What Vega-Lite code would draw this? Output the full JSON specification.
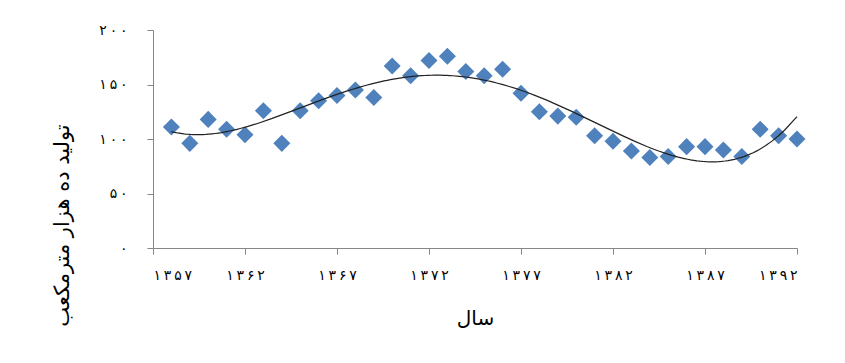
{
  "$schema": "https://vega.github.io/schema/vega-lite/v6.json",
  "autosize": "none",
  "width": 644,
  "height": 218,
  "padding": {"left": 153, "top": 30, "right": 48, "bottom": 115},
  "background": "white",
  "config": {
    "view": {"stroke": null},
    "axis": {
      "grid": false,
      "domainColor": "#868686",
      "tickColor": "#868686",
      "tickSize": 6,
      "labelFont": "DejaVu Sans",
      "labelFontSize": 14,
      "labelColor": "#000000",
      "titleFont": "DejaVu Sans",
      "titleFontWeight": "normal",
      "titleColor": "#000000"
    }
  },
  "data": {
    "values": [
      {"year": 1358, "value": 111},
      {"year": 1359, "value": 96},
      {"year": 1360, "value": 118},
      {"year": 1361, "value": 109},
      {"year": 1362, "value": 104},
      {"year": 1363, "value": 126},
      {"year": 1364, "value": 96},
      {"year": 1365, "value": 126},
      {"year": 1366, "value": 135},
      {"year": 1367, "value": 140},
      {"year": 1368, "value": 145},
      {"year": 1369, "value": 138},
      {"year": 1370, "value": 167},
      {"year": 1371, "value": 158},
      {"year": 1372, "value": 172},
      {"year": 1373, "value": 176},
      {"year": 1374, "value": 162},
      {"year": 1375, "value": 158},
      {"year": 1376, "value": 164},
      {"year": 1377, "value": 142},
      {"year": 1378, "value": 125},
      {"year": 1379, "value": 121},
      {"year": 1380, "value": 120},
      {"year": 1381, "value": 103},
      {"year": 1382, "value": 98},
      {"year": 1383, "value": 89},
      {"year": 1384, "value": 83},
      {"year": 1385, "value": 84},
      {"year": 1386, "value": 93},
      {"year": 1387, "value": 93},
      {"year": 1388, "value": 90},
      {"year": 1389, "value": 84},
      {"year": 1390, "value": 109},
      {"year": 1391, "value": 103},
      {"year": 1392, "value": 100}
    ]
  },
  "layer": [
    {
      "mark": {"type": "point", "shape": "diamond", "filled": true, "size": 290, "color": "#4F81BD", "opacity": 1},
      "encoding": {
        "x": {
          "field": "year", "type": "quantitative",
          "scale": {"domain": [1357, 1392], "nice": false, "zero": false},
          "axis": {
            "values": [1357, 1362, 1367, 1372, 1377, 1382, 1387, 1392],
            "format": "d",
            "labelPadding": 14,
            "title": "سال",
            "titleFontSize": 20,
            "titleBaseline": "middle",
            "titleY": 70,
            "labelExpr": "replace(replace(replace(replace(replace(replace(replace(replace(replace(replace(replace(datum.label,regexp('0','g'),'۰'),regexp('1','g'),'۱'),regexp('2','g'),'۲'),regexp('3','g'),'۳'),regexp('4','g'),'۴'),regexp('5','g'),'۵'),regexp('6','g'),'۶'),regexp('7','g'),'۷'),regexp('8','g'),'۸'),regexp('9','g'),'۹'),regexp('(.)(?=.)','g'),'$1\u2009')"
          }
        },
        "y": {
          "field": "value", "type": "quantitative",
          "scale": {"domain": [0, 200], "nice": false},
          "axis": {
            "values": [0, 50, 100, 150, 200],
            "labelPadding": 20,
            "title": "تولید ده هزار مترمکعب",
            "titleFontSize": 21,
            "titleAngle": 270,
            "titleAlign": "center",
            "titleBaseline": "middle",
            "titleX": -91,
            "titleY": 195,
            "labelExpr": "replace(replace(replace(replace(replace(replace(replace(replace(replace(replace(replace(datum.label,regexp('0','g'),'۰'),regexp('1','g'),'۱'),regexp('2','g'),'۲'),regexp('3','g'),'۳'),regexp('4','g'),'۴'),regexp('5','g'),'۵'),regexp('6','g'),'۶'),regexp('7','g'),'۷'),regexp('8','g'),'۸'),regexp('9','g'),'۹'),regexp('(.)(?=.)','g'),'$1\u2009')"
          }
        }
      }
    },
    {
      "transform": [
        {"regression": "value", "on": "year", "method": "poly", "order": 4}
      ],
      "mark": {"type": "line", "color": "#222222", "strokeWidth": 1.2},
      "encoding": {
        "x": {"field": "year", "type": "quantitative"},
        "y": {"field": "value", "type": "quantitative"}
      }
    }
  ]
}
